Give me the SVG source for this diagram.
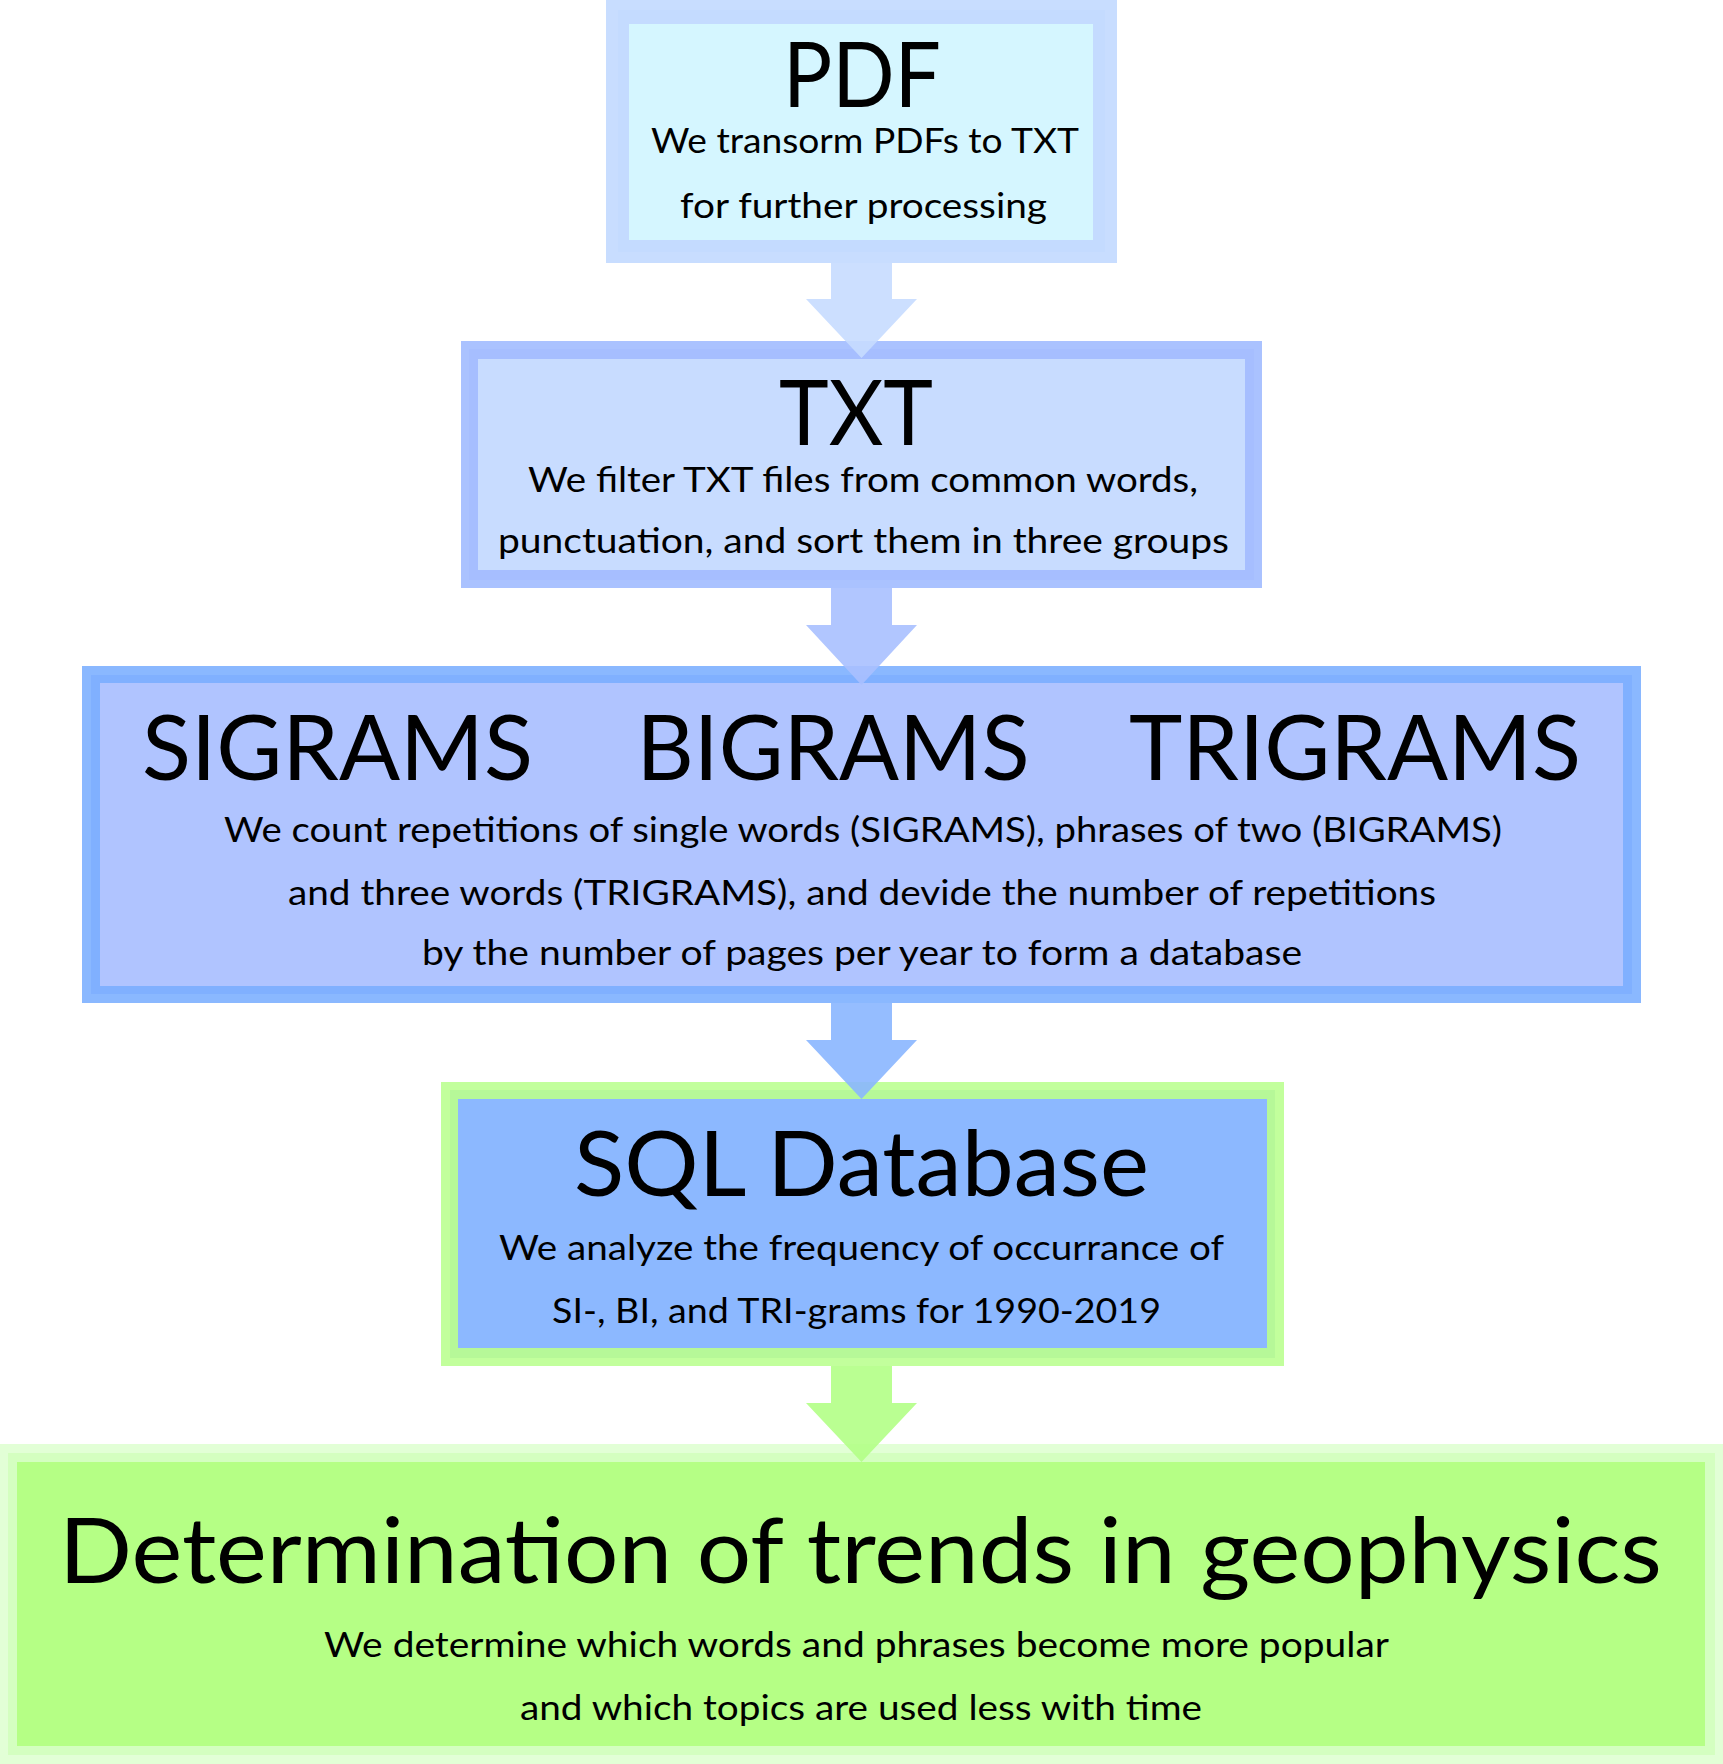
<svg xmlns="http://www.w3.org/2000/svg" width="1723" height="1764" viewBox="0 0 1723 1764">
<style>
text { font-family: Lato, "Open Sans", "Liberation Sans", sans-serif; fill: #000; text-anchor: middle; }
.t { font-size: 92px; }
.b { font-size: 35px; }
</style>
<rect x="0" y="0" width="1723" height="1764" fill="#ffffff"/>
<g id="node-pdf">
  <rect x="606" y="0" width="511" height="263" fill="#c8ddff"/>
  <rect x="618" y="10" width="487" height="242" fill="#c4dbff"/>
  <rect x="629" y="24" width="464" height="216" fill="#d5f6ff"/>
  <text class="t" x="862" y="107" textLength="158" lengthAdjust="spacingAndGlyphs">PDF</text>
  <text class="b" x="865" y="153" textLength="428" lengthAdjust="spacingAndGlyphs">We transorm PDFs to TXT</text>
  <text class="b" x="863.5" y="218" textLength="367" lengthAdjust="spacingAndGlyphs">for further processing</text>
</g>
<g id="node-txt">
  <rect x="461" y="341" width="801" height="247" fill="#aac2ff"/>
  <rect x="469" y="349" width="785" height="231" fill="#a6beff"/>
  <rect x="478" y="359" width="767" height="211" fill="#c8dcff"/>
  <text class="t" x="856" y="445" textLength="154" lengthAdjust="spacingAndGlyphs">TXT</text>
  <text class="b" x="863" y="492" textLength="670" lengthAdjust="spacingAndGlyphs">We filter TXT files from common words,</text>
  <text class="b" x="863.5" y="553" textLength="731" lengthAdjust="spacingAndGlyphs">punctuation, and sort them in three groups</text>
</g>
<g id="node-grams">
  <rect x="82" y="666" width="1559" height="337" fill="#8ab8ff"/>
  <rect x="91" y="675" width="1541" height="319" fill="#80b0ff"/>
  <rect x="100" y="683" width="1523" height="303" fill="#b0c4ff"/>
  <text class="t" x="337.5" y="780" textLength="391" lengthAdjust="spacingAndGlyphs">SIGRAMS</text>
  <text class="t" x="833" y="780" textLength="393" lengthAdjust="spacingAndGlyphs">BIGRAMS</text>
  <text class="t" x="1355" y="780" textLength="452" lengthAdjust="spacingAndGlyphs">TRIGRAMS</text>
  <text class="b" x="863" y="842" textLength="1278" lengthAdjust="spacingAndGlyphs">We count repetitions of single words (SIGRAMS), phrases of two (BIGRAMS)</text>
  <text class="b" x="862" y="905" textLength="1148" lengthAdjust="spacingAndGlyphs">and three words (TRIGRAMS), and devide the number of repetitions</text>
  <text class="b" x="862" y="965" textLength="880" lengthAdjust="spacingAndGlyphs">by the number of pages per year to form a database</text>
</g>
<g id="node-sql">
  <rect x="441" y="1082" width="843" height="284" fill="#c2ff9c"/>
  <rect x="450" y="1090" width="825" height="268" fill="#b6f898"/>
  <rect x="458" y="1099" width="809" height="249" fill="#8cb8ff"/>
  <text class="t" x="861.5" y="1196" textLength="575" lengthAdjust="spacingAndGlyphs">SQL Database</text>
  <text class="b" x="861.5" y="1260" textLength="725" lengthAdjust="spacingAndGlyphs">We analyze the frequency of occurrance of</text>
  <text class="b" x="856.5" y="1323" textLength="609" lengthAdjust="spacingAndGlyphs">SI-, BI, and TRI-grams for 1990-2019</text>
</g>
<g id="node-trends">
  <rect x="0" y="1444" width="1723" height="320" fill="#e2ffd6"/>
  <rect x="8" y="1453" width="1707" height="302" fill="#d4ffc0"/>
  <rect x="17" y="1462" width="1688" height="284" fill="#b5ff85"/>
  <text class="t" x="860.5" y="1583" textLength="1603" lengthAdjust="spacingAndGlyphs">Determination of trends in geophysics</text>
  <text class="b" x="856.5" y="1657" textLength="1065" lengthAdjust="spacingAndGlyphs">We determine which words and phrases become more popular</text>
  <text class="b" x="861" y="1720" textLength="682" lengthAdjust="spacingAndGlyphs">and which topics are used less with time</text>
</g>
<g id="connectors">
  <polygon points="831,263 892,263 892,299 917,299 861.5,358 806,299 831,299" fill="#c6dcff" fill-opacity="0.9"/>
  <polygon points="831,588 892,588 892,625 917,625 861.5,685 806,625 831,625" fill="#a8c0ff" fill-opacity="0.9"/>
  <polygon points="831,1003 892,1003 892,1040 917,1040 861.5,1099 806,1040 831,1040" fill="#8ab6ff" fill-opacity="0.9"/>
  <polygon points="831,1366 892,1366 892,1403 917,1403 861.5,1462 806,1403 831,1403" fill="#b2ff86" fill-opacity="0.9"/>
</g>
</svg>
